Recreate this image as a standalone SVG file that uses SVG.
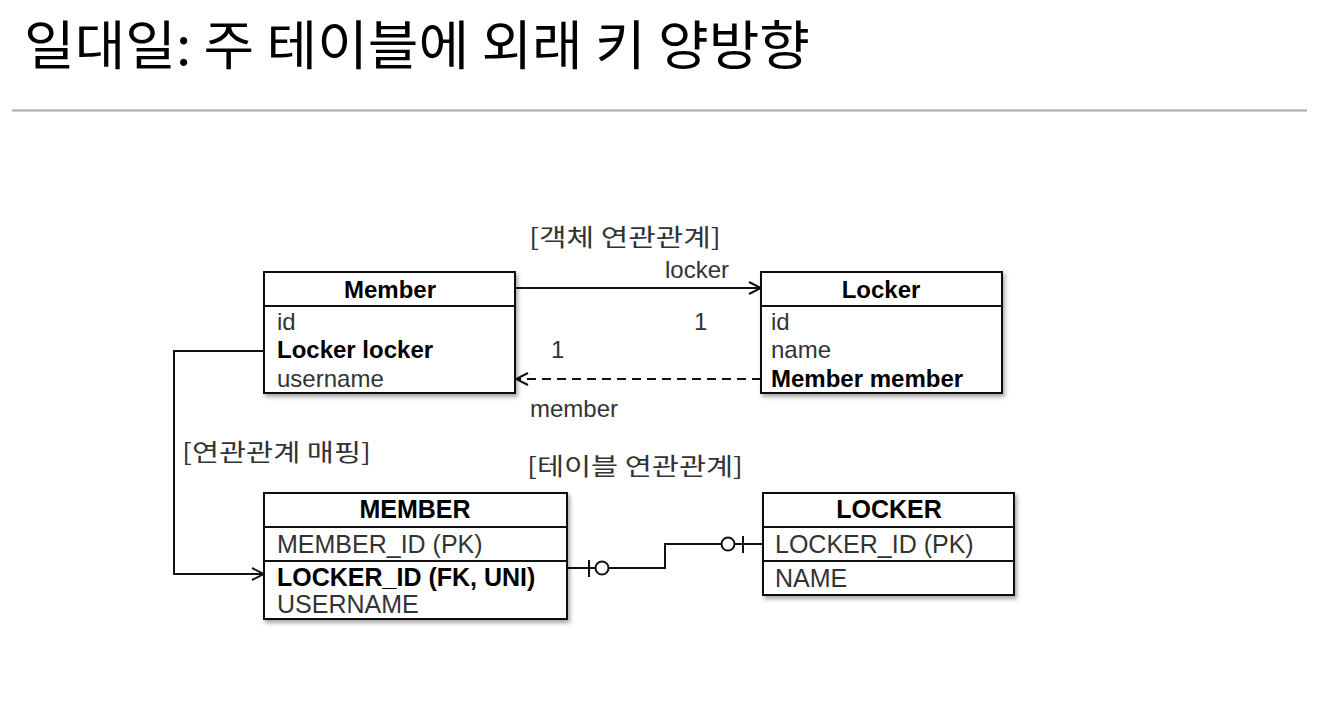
<svg xmlns="http://www.w3.org/2000/svg" width="1332" height="702" viewBox="0 0 1332 702">
<defs>
<style>
.box{fill:#fff;stroke:#111;stroke-width:2}
.div{stroke:#111;stroke-width:2}
.hd{font-family:"Liberation Sans",Arial,sans-serif;font-weight:bold;font-size:24px;fill:#000;text-anchor:middle}
.f{font-family:"Liberation Sans",Arial,sans-serif;font-size:24px;fill:#333}
.fb{font-family:"Liberation Sans",Arial,sans-serif;font-size:24px;font-weight:bold;fill:#000}
.tf{font-family:"Liberation Sans",Arial,sans-serif;font-size:25px;fill:#333}
.tfb{font-family:"Liberation Sans",Arial,sans-serif;font-size:25px;font-weight:bold;fill:#000}
.kr{font-family:"Noto Sans CJK KR","Liberation Sans",sans-serif;font-size:24px;fill:#333}
.lbl{font-family:"Liberation Sans",Arial,sans-serif;font-size:24px;fill:#333}
.ln{fill:none;stroke:#111;stroke-width:2}
</style>
<filter id="sh" x="-10%" y="-10%" width="130%" height="130%">
<feDropShadow dx="2" dy="3" stdDeviation="2" flood-color="#000" flood-opacity="0.35"/>
</filter>
<marker id="oa" viewBox="0 0 14 14" refX="13" refY="7" markerWidth="14" markerHeight="14" markerUnits="userSpaceOnUse" orient="auto">
<path d="M1,1 L13,7 L1,13" fill="none" stroke="#111" stroke-width="2"/>
</marker>
</defs>
<rect width="1332" height="702" fill="#fff"/>
<text x="24" y="65" font-family="Noto Sans CJK KR,Liberation Sans,sans-serif" font-size="53" fill="#000" textLength="786" lengthAdjust="spacingAndGlyphs">일대일: 주 테이블에 외래 키 양방향</text>
<line x1="12" y1="110.5" x2="1307" y2="110.5" stroke="#aaa" stroke-width="2"/>

<g id="connectors">
<path class="ln" d="M515,288 L761,288" marker-end="url(#oa)"/>
<path class="ln" d="M761,379 L516,379" stroke-dasharray="9 6" marker-end="url(#oa)"/>
<path class="ln" d="M264,351 L174,351 L174,574 L264,574" marker-end="url(#oa)"/>
<path class="ln" d="M567,568 L665,568 L665,544 L763,544"/>
<line class="ln" x1="589" y1="560" x2="589" y2="577"/>
<circle cx="602" cy="568" r="6.5" fill="#fff" stroke="#111" stroke-width="2"/>
<circle cx="728" cy="544" r="6.5" fill="#fff" stroke="#111" stroke-width="2"/>
<line class="ln" x1="743" y1="536" x2="743" y2="553"/>
<text class="lbl" x="665" y="278">locker</text>
<text class="lbl" x="694" y="330">1</text>
<text class="lbl" x="551" y="358">1</text>
<text class="lbl" x="530" y="417">member</text>
</g>

<g id="label-object">
<text class="kr" x="529" y="246" textLength="192" lengthAdjust="spacingAndGlyphs">[객체 연관관계]</text>
</g>
<g id="label-mapping">
<text class="kr" x="182" y="461" textLength="189" lengthAdjust="spacingAndGlyphs">[연관관계 매핑]</text>
</g>
<g id="label-table">
<text class="kr" x="527" y="475" textLength="216" lengthAdjust="spacingAndGlyphs">[테이블 연관관계]</text>
</g>

<g id="Member">
<rect class="box" x="264" y="272" width="251" height="121" filter="url(#sh)"/>
<line class="div" x1="264" y1="306" x2="515" y2="306"/>
<text class="hd" x="390" y="298">Member</text>
<text class="f" x="277" y="330">id</text>
<text class="fb" x="277" y="358">Locker locker</text>
<text class="f" x="277" y="387">username</text>
</g>

<g id="Locker">
<rect class="box" x="761" y="272" width="241" height="121" filter="url(#sh)"/>
<line class="div" x1="761" y1="306" x2="1002" y2="306"/>
<text class="hd" x="881" y="298">Locker</text>
<text class="f" x="771" y="330">id</text>
<text class="f" x="771" y="358">name</text>
<text class="fb" x="771" y="387">Member member</text>
</g>

<g id="MEMBER">
<rect class="box" x="264" y="493" width="303" height="126" filter="url(#sh)"/>
<line class="div" x1="264" y1="527" x2="567" y2="527"/>
<line class="div" x1="264" y1="561" x2="567" y2="561"/>
<text class="hd" x="415" y="518" style="font-size:25px">MEMBER</text>
<text class="tf" x="277" y="553">MEMBER_ID (PK)</text>
<text class="tfb" x="277" y="586">LOCKER_ID (FK, UNI)</text>
<text class="tf" x="277" y="613">USERNAME</text>
</g>

<g id="LOCKER">
<rect class="box" x="763" y="493" width="251" height="102" filter="url(#sh)"/>
<line class="div" x1="763" y1="527" x2="1014" y2="527"/>
<line class="div" x1="763" y1="561" x2="1014" y2="561"/>
<text class="hd" x="889" y="518" style="font-size:25px">LOCKER</text>
<text class="tf" x="775" y="553">LOCKER_ID (PK)</text>
<text class="tf" x="775" y="587">NAME</text>
</g>
</svg>
